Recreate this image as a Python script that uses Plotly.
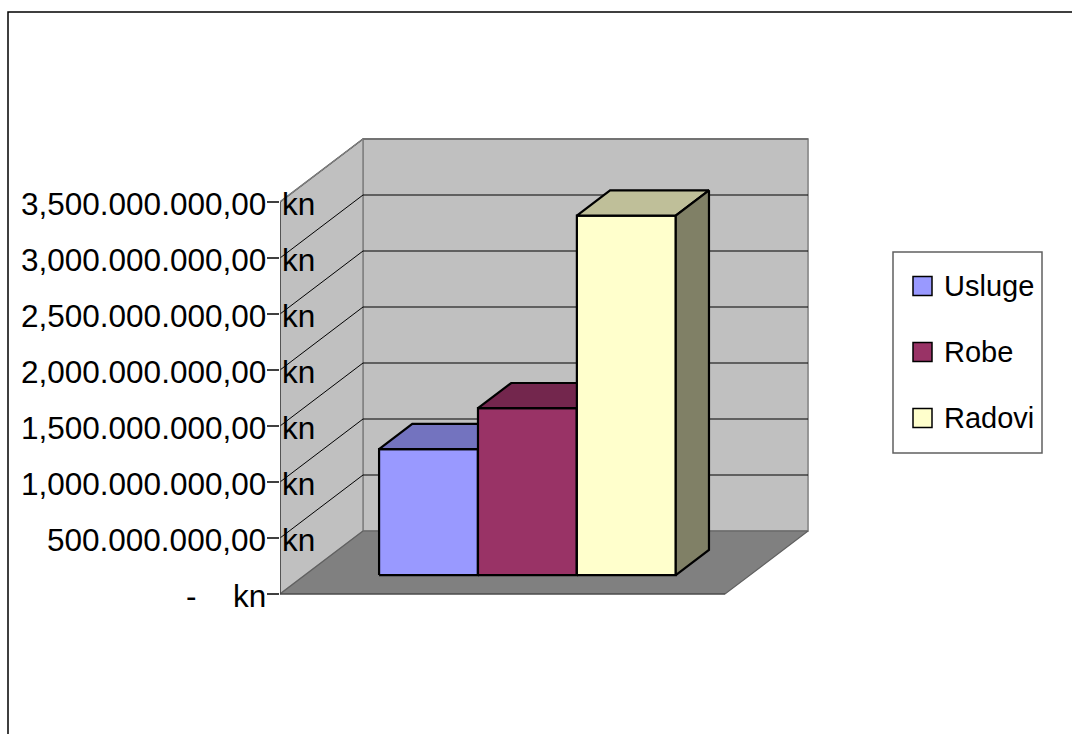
import plotly.graph_objects as go

# ---- data ----
series_names = ["Usluge", "Robe", "Radovi"]
series_values = [1.125e9, 1.49e9, 3.21e9]
tick_values = [0, 0.5e9, 1.0e9, 1.5e9, 2.0e9, 2.5e9, 3.0e9, 3.5e9]
tick_numbers = ["-", "500.000.000,00", "1,000.000.000,00", "1,500.000.000,00",
                "2,000.000.000,00", "2,500.000.000,00", "3,000.000.000,00",
                "3,500.000.000,00"]
tick_unit = "kn"

# ---- style ----
front_colors = ["#9999FF", "#993366", "#FFFFCC"]
top_colors = ["#7373BF", "#73264D", "#BFBF99"]
side_colors = ["#4D4D80", "#4D1A33", "#808066"]
WALL = "#C0C0C0"
FLOOR = "#808080"
FONT = "Liberation Sans, Arial, sans-serif"

W, H = 1072, 734
X0PX, Y0PX = 280, 594          # front-left-bottom corner in pixels
UX = 98.9                      # px per bar-width unit
UY = 112.0 / 1e9               # px per kn
DX, DY = 33.2 / UX, 25.2 / UY  # oblique offset per depth unit
DEPTH = 2.5
BAR_D0, BAR_D1 = 0.75, 1.75
GAP = 0.75
n = len(series_values)
WIDTH = n + 2 * GAP
VMAX = tick_values[-1]

def P(x, v, d):
    return x + d * DX, v + d * DY

fig = go.Figure()

def poly(pts, fill, lc, lw):
    xs, ys = [], []
    for p in pts + [pts[0]]:
        a, b = P(*p)
        xs.append(a); ys.append(b)
    fig.add_trace(go.Scatter(x=xs, y=ys, mode="lines", fill="toself",
                             fillcolor=fill, line=dict(color=lc, width=lw),
                             hoverinfo="skip", showlegend=False))

def seg(p1, p2, color, lw):
    a1, b1 = P(*p1); a2, b2 = P(*p2)
    fig.add_trace(go.Scatter(x=[a1, a2], y=[b1, b2], mode="lines",
                             line=dict(color=color, width=lw),
                             hoverinfo="skip", showlegend=False))

# walls
poly([(0, 0, DEPTH), (WIDTH, 0, DEPTH), (WIDTH, VMAX, DEPTH), (0, VMAX, DEPTH)], WALL, "#808080", 1.5)
poly([(0, 0, 0), (0, 0, DEPTH), (0, VMAX, DEPTH), (0, VMAX, 0)], WALL, "#808080", 1.5)
poly([(0, 0, 0), (WIDTH, 0, 0), (WIDTH, 0, DEPTH), (0, 0, DEPTH)], FLOOR, "#606060", 1.2)

# gridlines
for t in tick_values[1:]:
    seg((0, t, 0), (0, t, DEPTH), "black", 1)
    seg((0, t, DEPTH), (WIDTH, t, DEPTH), "black", 1)
seg((0, VMAX, DEPTH), (WIDTH, VMAX, DEPTH), "#808080", 1.5)
seg((0, VMAX, 0), (0, VMAX, DEPTH), "#808080", 1.5)
# axis lines
seg((0, 0, 0), (0, VMAX, 0), "#404040", 1.5)
seg((0, 0, 0), (WIDTH, 0, 0), "#404040", 1.2)

# bars
for i, v in enumerate(series_values):
    x0, x1 = GAP + i, GAP + i + 1
    poly([(x0, 0, BAR_D0), (x1, 0, BAR_D0), (x1, v, BAR_D0), (x0, v, BAR_D0)], front_colors[i], "black", 2.2)
    poly([(x0, v, BAR_D0), (x1, v, BAR_D0), (x1, v, BAR_D1), (x0, v, BAR_D1)], top_colors[i], "black", 2.2)
    poly([(x1, 0, BAR_D0), (x1, 0, BAR_D1), (x1, v, BAR_D1), (x1, v, BAR_D0)], side_colors[i], "black", 2.2)

# axis labels
ann = []
LF = dict(family=FONT, size=31.5, color="black")
for t, lab in zip(tick_values, tick_numbers):
    if t == 0:
        ann.append(dict(x=0, y=t, xref="x", yref="y", text=lab, showarrow=False,
                        xanchor="center", xshift=-89, yshift=-2, font=LF))
        ann.append(dict(x=0, y=t, xref="x", yref="y", text=tick_unit, showarrow=False,
                        xanchor="left", xshift=-49, yshift=-2, font=LF))
    else:
        ann.append(dict(x=0, y=t, xref="x", yref="y", text=lab, showarrow=False,
                        xanchor="right", xshift=-12, yshift=-2, font=LF))
        ann.append(dict(x=0, y=t, xref="x", yref="y", text=tick_unit, showarrow=False,
                        xanchor="left", xshift=0, yshift=-2, font=LF))

# frame and legend (drawn)
shapes = []
def px(x): return x / W
def py(y): return 1 - y / H
shapes.append(dict(type="rect", xref="paper", yref="paper", x0=px(8), x1=px(1090),
                   y0=py(760), y1=py(12), line=dict(color="black", width=1.5)))
shapes.append(dict(type="rect", xref="paper", yref="paper", x0=px(893), x1=px(1042),
                   y0=py(453), y1=py(252), line=dict(color="#606060", width=1.5)))
leg_y = [286, 352, 418]
for name, col, yy in zip(series_names, front_colors, leg_y):
    shapes.append(dict(type="rect", xref="paper", yref="paper", x0=px(913), x1=px(932),
                       y0=py(yy + 9.5), y1=py(yy - 9.5), fillcolor=col,
                       line=dict(color="black", width=1.5)))
    ann.append(dict(x=px(942), y=py(yy), xref="paper", yref="paper", text=name,
                    showarrow=False, xanchor="left", yanchor="middle",
                    font=dict(family=FONT, size=29, color="black")))

fig.update_layout(
    width=W, height=H, margin=dict(l=0, r=0, t=0, b=0),
    paper_bgcolor="white", plot_bgcolor="white",
    xaxis=dict(domain=[X0PX / W, 1], range=[0, (W - X0PX) / UX], visible=False, fixedrange=True),
    yaxis=dict(range=[(Y0PX - H) / UY, Y0PX / UY], showgrid=False, zeroline=False,
               showline=False, showticklabels=False, tickvals=tick_values,
               ticks="outside", ticklen=12, tickwidth=1.5, tickcolor="#404040",
               fixedrange=True),
    annotations=ann, shapes=shapes, showlegend=False,
)
fig.write_html("out.html", config={"displayModeBar": False},
               post_script="document.body.style.margin='0';document.body.style.overflow='hidden';")
